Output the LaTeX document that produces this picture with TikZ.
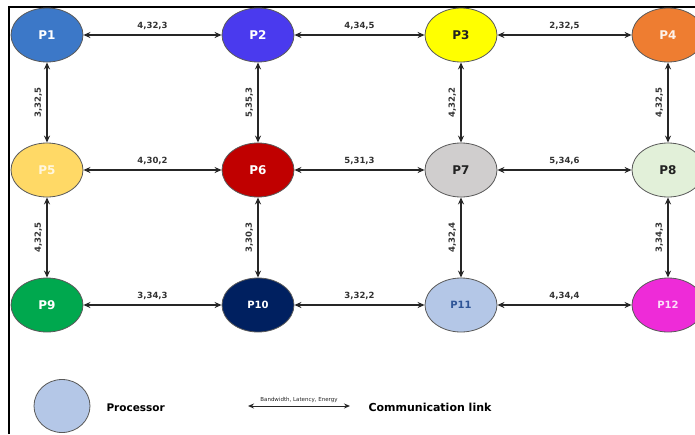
\documentclass[tikz,border=0pt]{standalone}
\usepackage{fontspec}
\setmainfont{DejaVu Sans}
\usetikzlibrary{arrows.meta,shapes.geometric}
\definecolor{cP1}{HTML}{3C78C8}
\definecolor{cP2}{HTML}{4A3AEE}
\definecolor{cP3}{HTML}{FFFF00}
\definecolor{cP4}{HTML}{EE7D31}
\definecolor{cP5}{HTML}{FFD966}
\definecolor{cP6}{HTML}{C00000}
\definecolor{cP7}{HTML}{D0CECE}
\definecolor{cP8}{HTML}{E2F0D9}
\definecolor{cP9}{HTML}{00A84E}
\definecolor{cP10}{HTML}{002060}
\definecolor{cP11}{HTML}{B4C7E7}
\definecolor{cP12}{HTML}{EE2BD8}
\definecolor{txtdark}{HTML}{222222}
\definecolor{txtblue}{HTML}{2F5597}
\begin{document}
\begin{tikzpicture}[x=1pt,y=-1pt,
  proc/.style={ellipse,draw=black!65,line width=0.8pt,minimum width=72pt,minimum height=54pt,inner sep=0pt,font=\bfseries\fontsize{12}{12}\selectfont},
  link/.style={{Stealth[length=7pt,width=6pt]}-{Stealth[length=7pt,width=6pt]},line width=1.4pt,black!85},
  elab/.style={font=\bfseries\fontsize{8.5}{8.5}\selectfont,text=black!80},
  ]
\useasboundingbox (0,0) rectangle (695,434);
\fill[white] (0,0) rectangle (695,434);
\draw[line width=1.2pt] (9,434) -- (9,7) -- (695,7);
\node[proc,fill=cP1,text=white] (p1) at (47,35) {P1};
\node[proc,fill=cP2,text=white] (p2) at (258,35) {P2};
\node[proc,fill=cP3,text=txtdark] (p3) at (461,35) {P3};
\node[proc,fill=cP4,text=white!90!cP4] (p4) at (668,35) {P4};
\node[proc,fill=cP5,text=white!80!cP5] (p5) at (47,170) {P5};
\node[proc,fill=cP6,text=white] (p6) at (258,170) {P6};
\node[proc,fill=cP7,text=txtdark] (p7) at (461,170) {P7};
\node[proc,fill=cP8,text=txtdark] (p8) at (668,170) {P8};
\node[proc,fill=cP9,text=white] (p9) at (47,305) {P9};
\node[proc,fill=cP10,text=white,font=\bfseries\fontsize{10}{10}\selectfont] (p10) at (258,305) {P10};
\node[proc,fill=cP11,text=txtblue,font=\bfseries\fontsize{10}{10}\selectfont] (p11) at (461,305) {P11};
\node[proc,fill=cP12,text=white!85!cP12,font=\bfseries\fontsize{10}{10}\selectfont] (p12) at (668,305) {P12};
% horizontal links
\draw[link] (p1) -- node[elab,above=1pt]{4,32,3} (p2);
\draw[link] (p2) -- node[elab,above=1pt]{4,34,5} (p3);
\draw[link] (p3) -- node[elab,above=1pt]{2,32,5} (p4);
\draw[link] (p5) -- node[elab,above=1pt]{4,30,2} (p6);
\draw[link] (p6) -- node[elab,above=1pt]{5,31,3} (p7);
\draw[link] (p7) -- node[elab,above=1pt]{5,34,6} (p8);
\draw[link] (p9) -- node[elab,above=1pt]{3,34,3} (p10);
\draw[link] (p10) -- node[elab,above=1pt]{3,32,2} (p11);
\draw[link] (p11) -- node[elab,above=1pt]{4,34,4} (p12);
% vertical links
\draw[link] (p1) -- node[elab,rotate=90,above=1pt]{3,32,5} (p5);
\draw[link] (p2) -- node[elab,rotate=90,above=1pt]{5,35,3} (p6);
\draw[link] (p3) -- node[elab,rotate=90,above=1pt]{4,32,2} (p7);
\draw[link] (p4) -- node[elab,rotate=90,above=1pt]{4,32,5} (p8);
\draw[link] (p5) -- node[elab,rotate=90,above=1pt]{4,32,5} (p9);
\draw[link] (p6) -- node[elab,rotate=90,above=1pt]{3,30,3} (p10);
\draw[link] (p7) -- node[elab,rotate=90,above=1pt]{4,32,4} (p11);
\draw[link] (p8) -- node[elab,rotate=90,above=1pt]{3,34,3} (p12);
% legend
\node[ellipse,draw=black!65,line width=0.8pt,fill=cP11,minimum width=56pt,minimum height=53pt] (lg) at (62,406) {};
\node[font=\bfseries\fontsize{10.5}{10.5}\selectfont,anchor=west] (lgt) at (103,408) {Processor};
\coordinate (la) at (248,406);
\coordinate (lb) at (350,406);
\draw[{Stealth[length=6pt,width=5pt]}-{Stealth[length=6pt,width=5pt]},line width=1pt,black!85] (la) -- node[above=0pt,font=\fontsize{5.5}{6}\selectfont]{Bandwidth, Latency, Energy} (lb);
\node[font=\bfseries\fontsize{11}{11}\selectfont,anchor=west] (lct) at (365,407) {Communication link};
\end{tikzpicture}
\end{document}
